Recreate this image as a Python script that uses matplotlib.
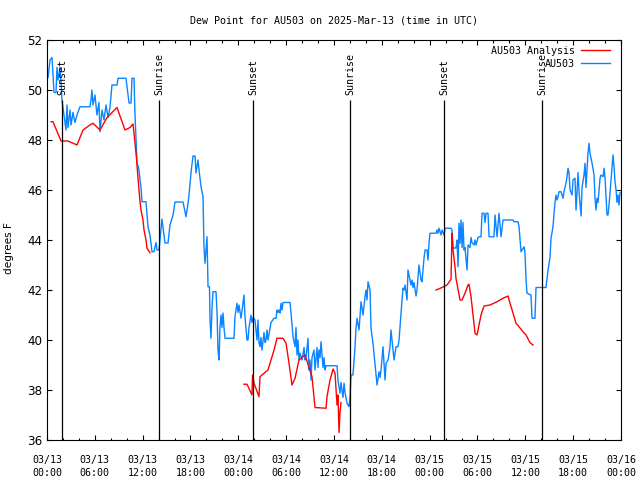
import numpy as np
import matplotlib
matplotlib.use("Agg")
import matplotlib.pyplot as plt
import matplotlib.dates as mdates
from matplotlib.ticker import MultipleLocator

# ---------------- data ----------------
start = np.datetime64("2025-03-13T00:00")
title = "Dew Point for AU503 on 2025-Mar-13 (time in UTC)"
ylabel = "degrees F"
obs_label = "AU503"
ana_label = "AU503 Analysis"

# hours since 2025-03-13 00:00 UTC
sun_hours = [1.88, 14.05, 25.84, 38.01, 49.80, 62.09]
sun_names = ["Sunset", "Sunrise", "Sunset", "Sunrise", "Sunset", "Sunrise"]

obs_hours = [
    0.13, 0.38, 0.63, 0.75, 0.88, 1.13, 1.25, 1.38, 1.63, 1.76, 1.88, 2.13, 2.38, 2.51, 2.63,
    2.89, 3.01, 3.26, 3.51, 3.76, 4.14, 5.39, 5.52, 5.64, 5.77, 6.02, 6.27, 6.52, 6.65, 6.90,
    7.15, 7.40, 7.65, 7.90, 8.15, 8.78, 8.91, 9.91, 10.29, 10.54, 10.66, 10.91, 11.04, 11.29,
    11.54, 11.67, 11.79, 11.92, 12.42, 12.67, 12.92, 13.17, 13.42, 13.67, 13.80, 14.05, 14.42,
    14.80, 15.18, 15.43, 15.81, 16.06, 17.06, 17.44, 17.69, 17.81, 18.06, 18.31, 18.57, 18.69,
    18.94, 19.07, 19.32, 19.57, 19.69, 19.82, 19.94, 20.07, 20.20, 20.38, 20.45, 20.57, 20.70,
    20.82, 21.20, 21.33, 21.45, 21.58, 21.70, 21.83, 21.95, 22.08, 22.20, 22.33, 23.46, 23.58,
    23.83, 23.96, 24.08, 24.34, 24.71, 24.84, 25.09, 25.21, 25.34, 25.59, 25.71, 25.84, 26.09,
    26.22, 26.34, 26.47, 26.59, 26.72, 26.84, 26.97, 27.22, 27.35, 27.47, 27.60, 27.72, 28.10,
    28.48, 28.73, 28.85, 28.98, 29.10, 29.23, 29.35, 29.48, 29.60, 30.48, 30.61, 30.86, 31.11,
    31.23, 31.36, 31.48, 31.61, 31.74, 31.99, 32.24, 32.36, 32.49, 32.74, 32.86, 32.99, 33.12,
    33.24, 33.49, 33.62, 33.87, 33.99, 34.12, 34.25, 34.37, 34.62, 34.75, 34.87, 35.00, 36.38,
    36.50, 36.75, 36.88, 37.13, 37.26, 37.38, 37.63, 37.88, 38.01, 38.13, 38.38, 38.64, 38.76,
    38.89, 39.14, 39.39, 39.64, 39.89, 40.01, 40.14, 40.27, 40.52, 40.64, 40.89, 41.14, 41.40,
    41.65, 41.77, 41.90, 42.15, 42.40, 42.53, 42.78, 43.03, 43.15, 43.40, 43.53, 43.78, 44.03,
    44.16, 44.41, 44.53, 44.66, 44.78, 44.91, 45.16, 45.28, 45.53, 45.66, 45.79, 45.91, 46.04,
    46.29, 46.41, 46.66, 46.79, 46.92, 47.04, 47.29, 47.42, 47.67, 47.79, 47.92, 48.04, 48.80,
    48.92, 49.05, 49.17, 49.43, 49.55, 49.80, 49.93, 50.68, 50.80, 50.93, 51.30, 51.43, 51.56,
    51.68, 51.81, 51.93, 52.06, 52.18, 52.31, 52.43, 52.69, 52.81, 53.06, 53.19, 53.31, 53.57,
    53.69, 53.82, 54.07, 54.19, 54.44, 54.57, 54.82, 54.95, 55.07, 55.32, 55.45, 56.07, 56.20,
    56.45, 56.70, 56.95, 57.20, 58.46, 58.58, 59.08, 59.21, 59.46, 59.84, 59.96, 60.09, 60.21,
    60.71, 60.84, 61.21, 61.34, 62.59, 62.85, 63.10, 63.22, 63.47, 63.60, 63.73, 63.85, 63.97,
    64.10, 64.23, 64.48, 64.60, 64.73, 64.85, 65.10, 65.23, 65.36, 65.48, 65.61, 65.86, 65.98,
    66.23, 66.36, 66.48, 66.61, 66.74, 66.99, 67.11, 67.36, 67.49, 67.61, 67.86, 67.99, 68.11,
    68.37, 68.62, 68.74, 68.87, 68.99, 69.12, 69.37, 69.49, 69.75, 69.87, 70.00, 70.25, 70.37,
    70.50, 70.75, 70.88, 71.00, 71.13, 71.25, 71.38, 71.50, 71.63, 71.75, 71.88,
]
obs_values = [
    50.5, 51.2, 51.3, 50.6, 49.9, 49.9, 50.9, 50.4, 50.9, 50.3, 49.6, 49.0, 48.4, 49.4, 48.5,
    49.2, 48.6, 49.1, 48.7, 49.0, 49.33, 49.33, 49.6, 50.0, 49.4, 49.8, 49.0, 49.5, 48.33, 49.2,
    48.8, 49.4, 48.9, 49.3, 50.2, 50.2, 50.47, 50.47, 49.48, 49.48, 50.47, 50.47, 49.0, 47.1,
    46.8, 46.4, 46.1, 45.53, 45.53, 44.53, 44.2, 43.53, 43.53, 43.9, 43.6, 43.6, 44.84,
    43.88, 43.88, 44.6, 45.0, 45.52, 45.52, 44.93, 45.48, 45.8, 46.68, 47.36, 47.36, 46.68,
    47.2, 46.8, 46.13, 45.73, 43.73, 43.07, 43.6, 44.13, 42.13, 42.13, 40.8, 40.07, 41.33,
    41.93, 41.93, 41.08, 39.6, 39.2, 40.53, 41.0, 40.5, 41.08, 40.5, 40.07, 40.07, 40.93,
    41.47, 41.1, 41.4, 40.87, 41.8, 40.9, 40.0, 40.0, 40.5, 41.0, 40.7, 40.9, 40.8,
    40.4, 40.0, 40.8, 39.9, 39.73, 40.1, 39.6, 40.3, 39.9, 40.0, 40.4, 40.0, 40.7,
    40.87, 40.87, 41.2, 41.1, 41.2, 41.08, 41.47, 41.2, 41.5, 41.5, 41.07, 40.13, 39.73,
    40.5, 39.4, 40.0, 39.2, 39.47, 39.2, 39.7, 39.2, 39.3, 40.07, 38.8, 39.2, 38.4,
    39.3, 39.6, 38.8, 39.7, 38.9, 39.6, 39.3, 39.93, 38.9, 39.3, 38.8, 38.97, 38.97,
    38.4, 37.87, 38.3, 37.7, 38.27, 37.9, 37.47, 37.33, 37.7, 38.6, 38.6, 39.73, 40.47,
    40.87, 40.4, 41.53, 41.0, 41.73, 42.0, 41.6, 42.33, 42.0, 40.47, 39.87, 39.07, 38.2,
    38.73, 38.5, 38.8, 39.73, 38.4, 39.07, 39.2, 39.73, 40.4, 39.6, 39.2, 39.73, 39.73,
    40.0, 41.07, 41.6, 42.07, 42.0, 42.2, 41.6, 42.8, 42.4, 42.2, 42.4, 42.1, 42.3,
    41.76, 42.0, 43.0, 42.7, 42.4, 42.33, 43.27, 43.6, 43.6, 43.2, 43.88, 44.27, 44.27,
    44.4, 44.27, 44.47, 44.2, 44.4, 44.2, 44.47, 44.47, 44.4, 43.68, 43.68, 44.0, 42.93,
    44.67, 43.87, 44.8, 43.7, 44.7, 43.6, 43.7, 42.8, 43.8, 43.7, 44.1, 43.9, 43.8,
    44.0, 43.8, 44.1, 44.13, 44.13, 45.07, 45.07, 44.7, 45.07, 45.07, 44.13, 44.13, 45.0,
    44.13, 45.07, 44.13, 44.8, 44.8, 44.73, 44.73, 44.53, 43.53, 43.73, 43.47, 42.4, 41.87,
    41.8, 40.87, 40.87, 42.1, 42.1, 42.8, 43.33, 44.07, 44.53, 45.07, 45.53, 45.8, 45.6,
    45.73, 45.93, 45.93, 45.8, 45.67, 45.93, 46.27, 46.53, 46.87, 46.7, 46.0, 45.8, 46.4,
    46.47, 45.2, 45.9, 46.7, 45.9, 44.96, 46.1, 46.6, 47.07, 46.1, 47.47, 47.87, 47.47,
    47.07, 46.6, 45.67, 45.2, 45.67, 45.5, 46.47, 46.6, 46.53, 46.87, 46.47, 45.0, 45.0,
    45.4, 46.4, 46.93, 47.4, 46.93, 46.33, 46.0, 45.5, 45.8, 45.4, 45.9,
]

ana_hours_1 = [0.50, 0.75, 1.76, 2.63, 3.76, 4.52, 5.39, 5.77, 6.65, 7.53, 8.78, 9.78, 10.41,
               10.79, 11.16, 11.54, 11.67, 11.79, 12.04, 12.17, 12.42, 12.54, 12.92]
ana_values_1 = [48.73, 48.73, 47.96, 47.96, 47.8, 48.4, 48.6, 48.67, 48.4, 48.9, 49.3, 48.4, 48.5,
                48.64, 47.5, 46.0, 45.53, 45.2, 44.8, 44.4, 44.0, 43.67, 43.49]
ana_hours_2 = [24.71, 25.09, 25.71, 25.78, 25.97, 26.59, 26.72, 27.22, 27.72, 28.10, 28.48, 28.85,
               29.60, 29.98, 30.36, 30.73, 31.11, 31.61, 32.36, 33.24, 33.62, 35.00, 35.12, 35.50,
               35.88, 36.13, 36.38, 36.50, 36.63, 36.75, 36.88]
ana_values_2 = [38.23, 38.23, 37.8, 38.6, 38.27, 37.73, 38.53, 38.67, 38.8, 39.2, 39.6, 40.07,
                40.07, 39.87, 39.07, 38.2, 38.47, 39.2, 39.4, 38.53, 37.3, 37.27, 37.73, 38.4,
                38.84, 38.67, 37.4, 37.8, 36.3, 37.1, 37.5]
ana_hours_3 = [48.80, 49.55, 50.18, 50.68, 50.80, 50.93, 51.18, 51.30, 51.81, 52.06, 52.43, 52.81,
               52.93, 53.19, 53.44, 53.69, 53.94, 54.44, 54.82, 55.57, 56.45, 57.20, 57.83, 57.96,
               58.46, 58.83, 59.21, 59.71, 60.09, 60.59, 60.96]
ana_values_3 = [42.0, 42.1, 42.2, 42.43, 44.27, 43.6, 42.93, 42.47, 41.6, 41.6, 41.87, 42.2,
                42.23, 41.73, 41.0, 40.27, 40.2, 41.0, 41.36, 41.4, 41.53, 41.67, 41.76, 41.6,
                41.07, 40.67, 40.53, 40.33, 40.2, 39.89, 39.8]

x_start_hours, x_end_hours = 0, 72
y_min, y_max = 36, 52


def to_time(hours):
    secs = np.round(np.asarray(hours, dtype=float) * 3600).astype("int64")
    return start + secs.astype("timedelta64[s]")


# ---------------- plot ----------------
mono = "DejaVu Sans Mono"
red = "#ff0000"
blue = "#0a84ff"

fig = plt.figure(figsize=(6.4, 4.8), dpi=100)
ax = fig.add_axes([47 / 640, 40 / 480, 574 / 640, 400 / 480])

for i, (h, v) in enumerate([(ana_hours_1, ana_values_1), (ana_hours_2, ana_values_2),
                            (ana_hours_3, ana_values_3)]):
    ax.plot(to_time(h), v, color=red, lw=1.0, label=ana_label if i == 0 else None, zorder=3)
ax.plot(to_time(obs_hours), obs_values, color=blue, lw=1.0, label=obs_label, zorder=2)

sun_times = to_time(sun_hours)
ax.vlines(sun_times, y_min, 49.6, color="black", lw=0.9, zorder=4)
for t, name in zip(sun_times, sun_names):
    ax.text(t, 49.8, name, rotation=90, ha="center", va="bottom",
            family=mono, fontsize=7.2, zorder=5)

ax.set_xlim(to_time([x_start_hours])[0], to_time([x_end_hours])[0])
ax.set_ylim(y_min, y_max)
ax.xaxis.set_major_locator(mdates.HourLocator(byhour=range(0, 24, 6)))
ax.xaxis.set_minor_locator(mdates.HourLocator(byhour=range(0, 24, 2)))
ax.xaxis.set_major_formatter(mdates.DateFormatter("%m/%d\n%H:%M"))
ax.yaxis.set_major_locator(MultipleLocator(2))

ax.tick_params(which="both", direction="in", top=True, right=True, width=0.8)
ax.tick_params(which="major", length=3.3)
ax.tick_params(which="minor", length=1.8)
ax.tick_params(axis="x", which="major", pad=10.5, labelsize=7.2)
ax.tick_params(axis="y", which="major", pad=3.5, labelsize=8.6)
for lab in ax.get_xticklabels():
    lab.set_family(mono)
    lab.set_linespacing(1.45)
for sp in ax.spines.values():
    sp.set_linewidth(0.8)

ax.set_title(title, family=mono, fontsize=7.2, pad=12)
ax.set_ylabel(ylabel, fontsize=7.6)
ax.yaxis.set_label_coords(-33 / 574, 0.48)

ax.legend(loc="upper right", bbox_to_anchor=(1 - 11 / 574, 1 - 6 / 400), frameon=False,
          markerfirst=False, prop={"family": mono, "size": 7.2}, handlelength=2.9,
          handletextpad=0.6, labelspacing=0.3, borderaxespad=0, borderpad=0)

fig.savefig("out.png", dpi=100)
